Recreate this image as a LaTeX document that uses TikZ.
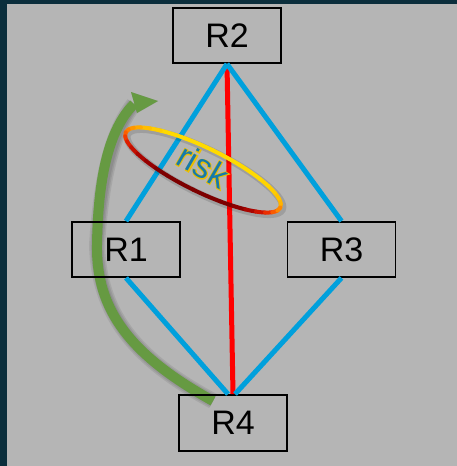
\documentclass[tikz,border=0pt]{standalone}
\usepackage{fontspec}
\setmainfont{Liberation Sans}
\newfontfamily\riskedgefont[FakeBold=5]{Liberation Sans}
\usetikzlibrary{calc}
\definecolor{frame}{RGB}{11,46,60}
\definecolor{panel}{RGB}{181,181,181}
\definecolor{linkblue}{RGB}{0,160,220}
\definecolor{pathgreen}{RGB}{102,154,66}
\definecolor{risktext}{RGB}{22,122,170}
\definecolor{riskedge}{RGB}{235,190,0}
\begin{document}
\begin{tikzpicture}[x=1pt,y=-1pt,
  router/.style={draw=black, line width=1.8pt, minimum width=108pt,
    minimum height=55pt, inner sep=0pt, font=\fontsize{34}{40}\selectfont},
  link/.style={draw=linkblue, line width=5pt},
  riskylink/.style={draw=red, line width=5pt},
  greenpath/.style={draw=pathgreen, line width=10pt},
  softshadow/.style={draw=black, opacity=0.08},
  risklabel/.style={rotate=-30, inner sep=0pt}]
% background panel with dark frame
\fill[frame] (0,0) rectangle (457,466);
\fill[panel] (7,4) rectangle (457,466);
\useasboundingbox (0,0) rectangle (457,466);

% reroute arrow: end points
\coordinate (tail) at (213,401);
\coordinate (bend) at (97,245);
\coordinate (shaftend) at (134,104);
\coordinate (headA) at (131,92);
\coordinate (headTip) at (158,101);
\coordinate (headB) at (137,113);

% soft shadow of the arrow
\begin{scope}[shift={(3,3)}]
  \foreach \w in {16,13,10} {
    \path[softshadow, line width=\w pt]
      (tail) .. controls (130,355) and (96,310) .. (bend)
      .. controls (98,180) and (108,130) .. (shaftend);
  }
  \fill[black, opacity=0.15] (headA) -- (headTip) -- (headB) -- cycle;
\end{scope}
% the arrow itself
\path[greenpath]
  (tail) .. controls (130,355) and (96,310) .. (bend)
  .. controls (98,180) and (108,130) .. (shaftend);
\fill[pathgreen] (headA) -- (headTip) -- (headB) -- cycle;

% routers
\node[router] (R2) at (227,35.5) {R2};
\node[router] (R1) at (126,249.5) {R1};
\node[router] (R3) at (341.5,249.5) {R3};
\node[router, minimum height=56pt] (R4) at (233,423) {R4};

% links
\draw[riskylink] (R2.south) -- (R4.north);
\draw[link] (R2.south) -- (R1.north);
\draw[link] (R2.south) -- (R3.north);
\draw[link] (R1.south) -- ([xshift=-5pt]R4.north);
\draw[link] (R3.south) -- ([xshift=2pt]R4.north);

% risk ring with its shadow
\begin{scope}[shift={(205,172)}, rotate=-26]
  \draw[black, opacity=0.12, line width=7pt] (0,0) ellipse[x radius=86pt, y radius=22pt];
\end{scope}
\begin{scope}[shift={(203,170)}, rotate=-26]
  \foreach \a/\r/\g/\b in {
      0/255/165/0, 10/255/180/0, 20/255/195/0, 30/255/205/0, 40/255/212/0,
      50/255/218/0, 60/255/218/0, 70/255/218/0, 80/255/218/0, 90/255/218/0,
      100/255/218/0, 110/255/218/0, 120/255/218/0, 130/255/205/0, 140/255/190/0,
      150/255/170/0, 160/255/150/0, 170/255/125/0, 180/250/95/0, 190/240/60/0,
      200/220/30/0, 210/195/15/0, 220/170/5/0, 230/150/0/0, 240/125/0/0,
      250/125/0/0, 260/125/0/0, 270/125/0/0, 280/125/0/0, 290/125/0/0,
      300/140/0/0, 310/170/5/0, 320/205/20/0, 330/235/45/0, 340/250/90/0,
      350/255/135/0} {
    \definecolor{ringseg}{RGB}{\r,\g,\b}
    \draw[ringseg, line width=4pt, line cap=round]
      (\a:86pt and 22pt) arc[start angle=\a, end angle=\a+10,
        x radius=86pt, y radius=22pt];
  }
\end{scope}

% risk label: an emboldened gold copy under the blue letters
\node[risklabel, text=riskedge, font=\riskedgefont\fontsize{34}{40}\selectfont]
  (riskedge) at (203,166) {risk};
\node[risklabel, text=risktext, font=\fontsize{34}{40}\selectfont]
  (risk) at (riskedge) {risk};
\end{tikzpicture}
\end{document}
